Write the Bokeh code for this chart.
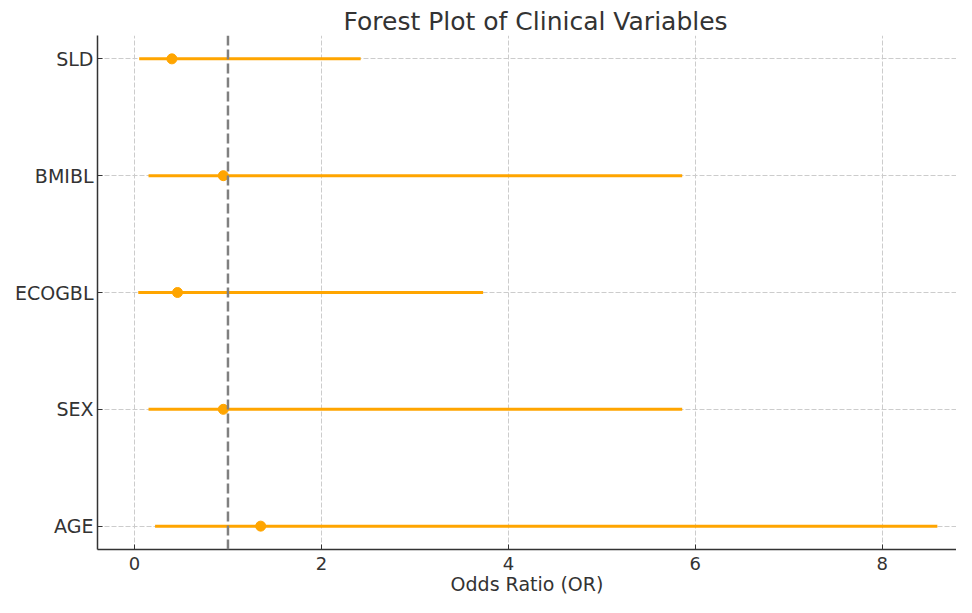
from bokeh.plotting import figure
from bokeh.models import Range1d, Span
from bokeh.embed import file_html
from bokeh.resources import INLINE

# ---- data ----
variables = ["AGE", "SEX", "ECOGBL", "BMIBL", "SLD"]
odds_ratio = [1.35, 0.95, 0.46, 0.95, 0.40]
ci_lower = [0.22, 0.15, 0.04, 0.15, 0.05]
ci_upper = [8.59, 5.86, 3.73, 5.86, 2.42]
x_ticks = [0, 2, 4, 6, 8]
ref_line = 1.0

ypos = list(range(len(variables)))

FONT = "DejaVu Sans"
TXT = "#333333"
ORANGE = "#FFA500"

p = figure(width=956, height=597, output_backend="svg", toolbar_location=None,
           x_range=Range1d(-0.396, 8.795), y_range=Range1d(-0.2, 4.2),
           min_border_left=97, min_border_right=0, min_border_top=35,
           min_border_bottom=42)

p.title.text = "Forest Plot of Clinical Variables"
p.title.align = "left"
p.title.offset = 246
p.title.text_font = FONT
p.title.text_font_size = "25px"
p.title.text_font_style = "normal"
p.title.text_color = TXT
p.title.standoff = 0

p.outline_line_color = None
p.background_fill_color = "white"
p.border_fill_color = "white"

# grid
p.grid.grid_line_color = "#cccccc"
p.grid.grid_line_dash = "5 2"
p.grid.grid_line_width = 1

# axes
p.xaxis.ticker = x_ticks
p.yaxis.ticker = ypos
p.yaxis.major_label_overrides = {i: v for i, v in zip(ypos, variables)}
for ax in (p.xaxis[0], p.yaxis[0]):
    ax.axis_line_color = TXT
    ax.axis_line_width = 1.5
    ax.major_tick_line_color = TXT
    ax.major_tick_in = 5
    ax.major_tick_out = 0
    ax.minor_tick_line_color = None
    ax.major_label_text_font = FONT
    ax.major_label_text_font_size = "18px"
    ax.major_label_text_color = TXT
p.yaxis.major_label_text_font_size = "19px"
p.xaxis.major_label_standoff = 7
p.yaxis.major_label_standoff = 4
p.xaxis.axis_label = "Odds Ratio (OR)"
p.xaxis.axis_label_text_font = FONT
p.xaxis.axis_label_text_font_size = "19px"
p.xaxis.axis_label_text_font_style = "normal"
p.xaxis.axis_label_text_color = TXT
p.xaxis.axis_label_standoff = 0

# confidence intervals and point estimates
p.segment(x0=ci_lower, y0=ypos, x1=ci_upper, y1=ypos,
          line_color=ORANGE, line_width=3)
p.scatter(x=odds_ratio, y=ypos, size=10, color=ORANGE)

# reference line
p.add_layout(Span(location=ref_line, dimension="height", line_color="#808080",
                  line_width=2.5, line_dash="10 4"))

open("out.html", "w").write(file_html(p, INLINE))
